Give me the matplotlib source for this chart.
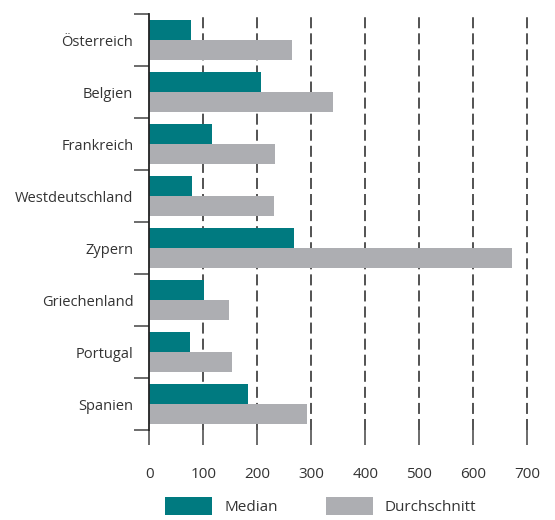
import matplotlib
matplotlib.use("Agg")
import matplotlib.pyplot as plt
import numpy as np
from matplotlib.patches import Patch

categories = ["Österreich", "Belgien", "Frankreich", "Westdeutschland",
              "Zypern", "Griechenland", "Portugal", "Spanien"]
median = [77, 207, 116, 79, 268, 101, 75, 183]
durchschnitt = [264, 340, 233, 231, 672, 148, 153, 292]
xticks = [0, 100, 200, 300, 400, 500, 600, 700]
series_names = ["Median", "Durchschnitt"]

c_med = "#007A80"
c_avg = "#ADAEB2"
txt = "#333333"

plt.rcParams['font.family'] = ['Open Sans', 'DejaVu Sans']

W, H = 555, 520
fig = plt.figure(figsize=(W / 100, H / 100), dpi=100)
left, right, top, bottom = 149.3, 538.1, 14, 430
ax = fig.add_axes([left / W, 1 - bottom / H, (right - left) / W, (bottom - top) / H])

n = len(categories)
y = np.arange(n)
bh = 20 / 52
ax.barh(y - bh / 2, median, height=bh, color=c_med, zorder=3)
ax.barh(y + bh / 2, durchschnitt, height=bh, color=c_avg, zorder=3)

ax.set_xlim(0, 720)
ax.set_ylim(n - 0.5, -0.5)

for v in xticks[1:]:
    ax.axvline(v, color="#444444", lw=1.3, ls=(0, (6.1, 2.8)), zorder=1)

for s in ["top", "right", "bottom"]:
    ax.spines[s].set_visible(False)
ax.spines["left"].set_color("#222222")
ax.spines["left"].set_linewidth(1.3)
ax.spines["left"].set_zorder(4)

ax.set_xticks(xticks)
ax.set_xticklabels([str(v) for v in xticks])
ax.tick_params(axis="x", length=10.8, width=1.1, color="#444444", pad=16,
               labelsize=11, labelcolor=txt)

ax.set_yticks(y)
ax.set_yticklabels(categories)
ax.tick_params(axis="y", which="major", length=0, pad=11.5, labelsize=10.5, labelcolor=txt)
ax.set_yticks(np.arange(n + 1) - 0.5, minor=True)
ax.tick_params(axis="y", which="minor", length=10.8, width=1.1, color="#444444")

handles = [Patch(facecolor=c_med, edgecolor="none"), Patch(facecolor=c_avg, edgecolor="none")]
fs = 11
fpx = fs * 100 / 72
leg = fig.legend(handles, series_names, loc="upper left",
                 bbox_to_anchor=(165 / W, 1 - 497 / H), ncol=2, frameon=False,
                 fontsize=fs, handlelength=47 / fpx, handleheight=22 / fpx,
                 handletextpad=12 / fpx, columnspacing=48 / fpx,
                 borderpad=0, borderaxespad=0)
for t in leg.get_texts():
    t.set_color(txt)

fig.savefig("out.png", dpi=100)
